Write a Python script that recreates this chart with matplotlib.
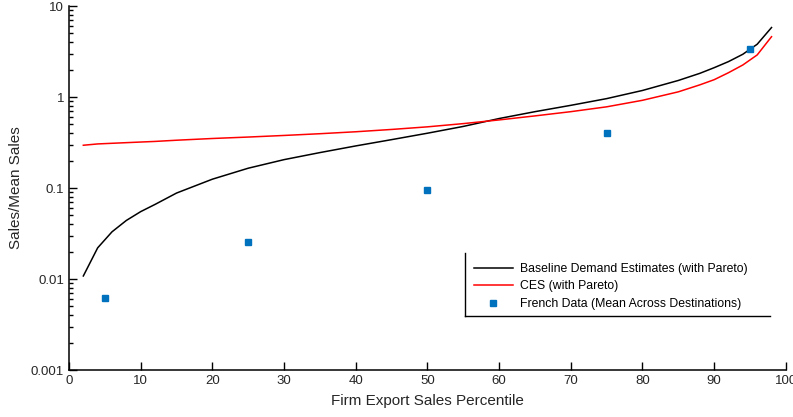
import numpy as np
import matplotlib.pyplot as plt
from matplotlib.lines import Line2D
from matplotlib.ticker import FixedLocator, FixedFormatter, LogLocator

plt.rcParams['font.family'] = ['Liberation Sans', 'DejaVu Sans']

# dados
pct = [2, 4, 6, 8, 10, 12, 15, 20, 25, 30, 35, 40, 45, 50, 55, 60,
       65, 70, 75, 80, 85, 88, 90, 92, 94, 96, 98]
baseline = [0.0108, 0.022, 0.033, 0.044, 0.055, 0.066, 0.088, 0.125, 0.165,
            0.205, 0.245, 0.29, 0.34, 0.40, 0.475, 0.58, 0.69, 0.81, 0.96,
            1.18, 1.52, 1.82, 2.1, 2.45, 2.95, 3.8, 5.8]
ces = [0.295, 0.305, 0.31, 0.315, 0.32, 0.325, 0.335, 0.35, 0.363, 0.378,
       0.395, 0.415, 0.44, 0.47, 0.51, 0.56, 0.62, 0.69, 0.78, 0.92,
       1.14, 1.36, 1.55, 1.85, 2.25, 2.9, 4.6]
french_x = [5, 25, 50, 75, 95]
french_y = [0.0062, 0.0253, 0.094, 0.40, 3.34]

fig = plt.figure(figsize=(7.93, 4.17), dpi=100)
ax = fig.add_axes([0.087, 0.1127, 0.904, 0.8729])

ax.plot(pct, baseline, color='black', lw=1.1, label='Baseline Demand Estimates (with Pareto)')
ax.plot(pct, ces, color='red', lw=1.1, label='CES (with Pareto)')
ax.plot(french_x, french_y, 's', color='#0072BD', ms=5, mec='#0072BD',
        label='French Data (Mean Across Destinations)')

ax.set_yscale('log')
ax.set_xlim(0, 100)
ax.set_ylim(0.001, 10)
ax.set_xticks(range(0, 101, 10))
ax.yaxis.set_major_locator(FixedLocator([0.001, 0.01, 0.1, 1, 10]))
ax.yaxis.set_major_formatter(FixedFormatter(['0.001', '0.01', '0.1', '1', '10']))
ax.yaxis.set_minor_locator(LogLocator(base=10, subs=np.arange(2, 10)))
ax.tick_params(which='both', direction='in', labelsize=9.5, labelcolor='#262626',
               top=False, right=False, width=1.0)
ax.tick_params(which='major', length=6)
ax.tick_params(which='minor', length=3)
ax.spines['top'].set_visible(False)
ax.spines['right'].set_visible(False)
for s in ['left', 'bottom']:
    ax.spines[s].set_linewidth(1.1)

ax.set_xlabel('Firm Export Sales Percentile', fontsize=11, color='#262626', labelpad=5)
ax.set_ylabel('Sales/Mean Sales', fontsize=11, color='#262626', labelpad=6)

leg = ax.legend(loc='upper left', bbox_to_anchor=((464 - 69) / 717, (370 - 253) / 364),
                frameon=False, fontsize=8.8, handlelength=3.2, handletextpad=0.55,
                borderpad=0.3, labelspacing=0.45)

# caixa da legenda só com linhas esquerda e inferior
W, H = 793, 417
fig.add_artist(Line2D([465 / W, 465 / W], [1 - 253 / H, 1 - 316 / H], color='black', lw=1.0))
fig.add_artist(Line2D([465 / W, 770 / W], [1 - 316 / H, 1 - 316 / H], color='black', lw=1.0))

fig.savefig('out.png', dpi=100)
